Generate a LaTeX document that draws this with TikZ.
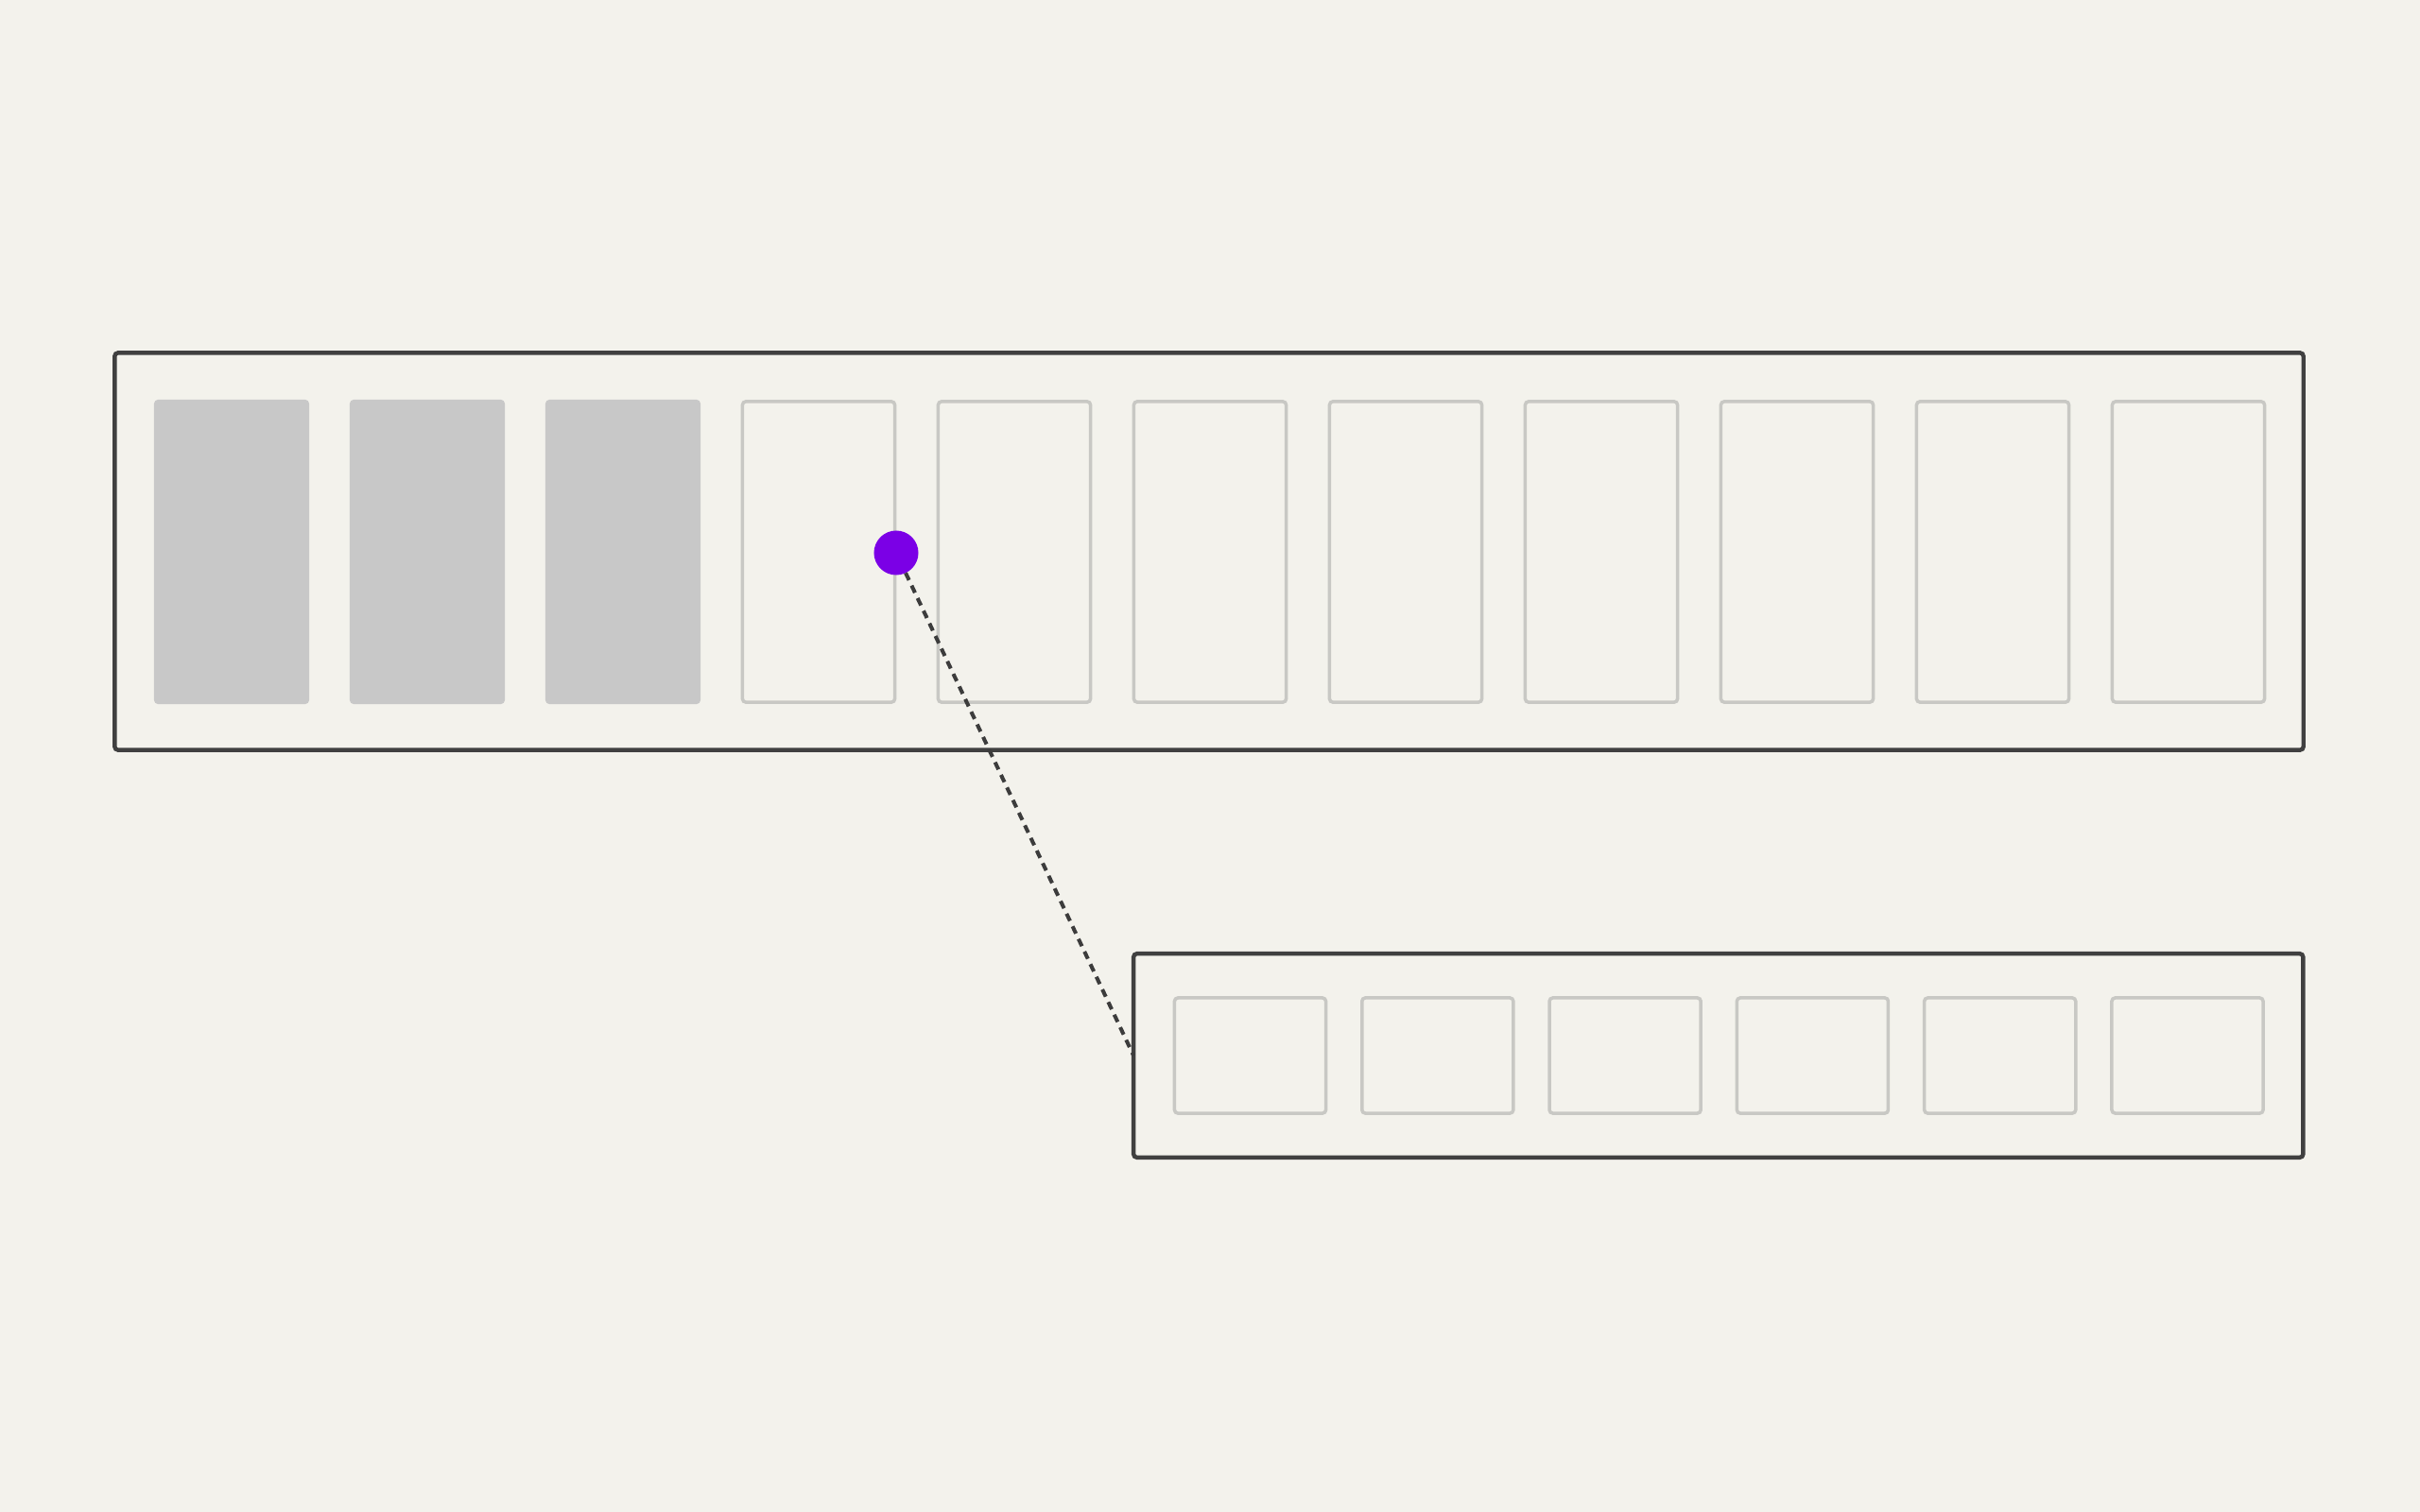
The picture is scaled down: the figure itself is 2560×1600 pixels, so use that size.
\documentclass[tikz,border=0pt]{standalone}
\begin{document}
\begin{tikzpicture}[x=0.01cm,y=-0.01cm,
  frame/.style={draw=framec,line width=1.25pt,rounded corners=1pt,inner sep=0pt,outer sep=0pt,fill=bgc},
  slotfull/.style={fill=slotc,draw=none,rounded corners=1.2pt,minimum width=1.64cm,minimum height=3.22cm,inner sep=0pt,outer sep=0pt},
  slotempty/.style={draw=slotline,line width=1.0pt,rounded corners=1pt,minimum width=1.61cm,minimum height=3.18cm,inner sep=0pt,outer sep=0pt},
  cell/.style={draw=slotline,line width=1.0pt,rounded corners=1pt,minimum width=1.60cm,minimum height=1.22cm,inner sep=0pt,outer sep=0pt},
  marker/.style={circle,fill=dotc,draw=none,minimum size=0.47cm,inner sep=0pt,outer sep=0pt},
  link/.style={draw=linkc,line width=1.15pt,dash pattern=on 2.4pt off 1.8pt}
]
\definecolor{bgc}{RGB}{243,242,236}
\definecolor{framec}{RGB}{64,64,64}
\definecolor{slotc}{RGB}{200,200,200}
\definecolor{slotline}{RGB}{200,200,196}
\definecolor{dotc}{RGB}{123,0,230}
\definecolor{linkc}{RGB}{60,60,60}
\fill[bgc] (0,0) rectangle (2560,1600);
\useasboundingbox (0,0) rectangle (2560,1600);

% top container
\node[frame,minimum width=23.14cm,minimum height=4.20cm] (top) at (1279,583.5) {};
\foreach \i in {0,1,2} {
  \node[slotfull] (s\i) at ({245+207*\i},584) {};
}
\foreach \i in {3,...,10} {
  \node[slotempty] (s\i) at ({245+207*\i},584) {};
}

% bottom container
\node[frame,minimum width=12.365cm,minimum height=2.155cm] (bot) at (1817.75,1117) {};
\foreach \i in {0,...,5} {
  \node[cell] (c\i) at ({1322.5+198.3*\i},1117) {};
}

% marker and link
\node[marker] (dot) at (948,585) {};
\draw[link] (dot) -- (bot.west);
\end{tikzpicture}
\end{document}
